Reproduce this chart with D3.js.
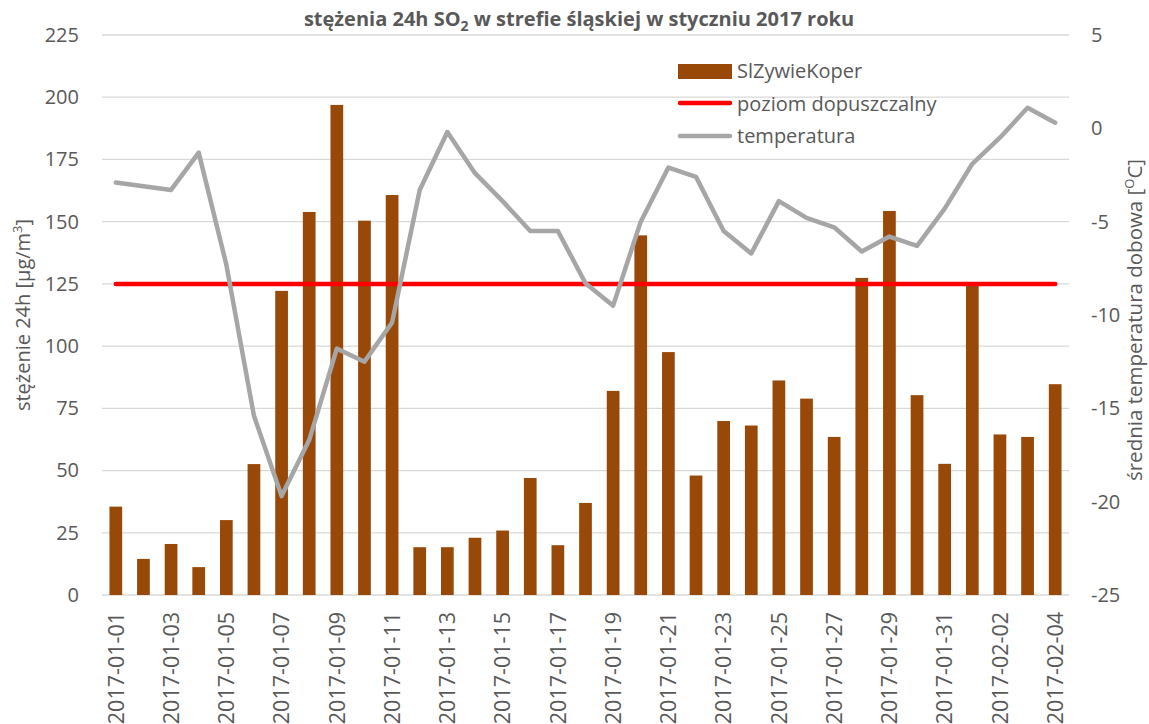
<!DOCTYPE html>
<html lang="pl">
  <head>
    <meta charset="UTF-8" />
    <title>stężenia 24h SO2</title>
    <style>
      body { margin: 0; background: #fff; }
      text { font-family: "Open Sans", sans-serif; fill: #595959; }
    </style>
  </head>
  <body>
    <div id="app"></div>
    <script src="https://cdn.jsdelivr.net/npm/d3@7/dist/d3.min.js"></script>
    <script>
      // dni pomiarowe
      const dates = [
        "2017-01-01", "2017-01-02", "2017-01-03", "2017-01-04", "2017-01-05",
        "2017-01-06", "2017-01-07", "2017-01-08", "2017-01-09", "2017-01-10",
        "2017-01-11", "2017-01-12", "2017-01-13", "2017-01-14", "2017-01-15",
        "2017-01-16", "2017-01-17", "2017-01-18", "2017-01-19", "2017-01-20",
        "2017-01-21", "2017-01-22", "2017-01-23", "2017-01-24", "2017-01-25",
        "2017-01-26", "2017-01-27", "2017-01-28", "2017-01-29", "2017-01-30",
        "2017-01-31", "2017-02-01", "2017-02-02", "2017-02-03", "2017-02-04"
      ];
      // SlZywieKoper, stezenie 24h SO2 [ug/m3]
      const so2 = [
        35.5, 14.5, 20.5, 11.2, 30.1, 52.6, 122.2, 153.9, 196.9, 150.4,
        160.7, 19.2, 19.2, 23.0, 25.9, 47.0, 20.0, 37.0, 82.0, 144.5,
        97.6, 48.0, 69.9, 68.1, 86.2, 78.9, 63.5, 127.4, 154.3, 80.3,
        52.7, 124.3, 64.5, 63.5, 84.7
      ];
      // srednia temperatura dobowa [C]
      const temperatura = [
        -2.9, -3.1, -3.3, -1.3, -7.3, -15.4, -19.7, -16.7, -11.8, -12.5,
        -10.4, -3.3, -0.2, -2.4, -3.9, -5.5, -5.5, -8.3, -9.5, -5.0,
        -2.1, -2.6, -5.5, -6.7, -3.9, -4.8, -5.3, -6.6, -5.8, -6.3,
        -4.3, -1.9, -0.5, 1.1, 0.3
      ];
      const poziomDopuszczalny = 125;
      const leftTicks = [0, 25, 50, 75, 100, 125, 150, 175, 200, 225];
      const rightTicks = [-25, -20, -15, -10, -5, 0, 5];
      const xTickLabels = dates.filter((d, i) => i % 2 === 0);

      const width = 1149;
      const height = 724;
      const plot = { left: 102, right: 1069, top: 35, bottom: 595 };

      const svg = d3.select("#app")
        .append("svg")
        .attr("width", width)
        .attr("height", height);

      const x = d3.scaleBand()
        .domain(dates)
        .range([plot.left, plot.right])
        .paddingInner(0.54)
        .paddingOuter(0.27);
      const cx = d => x(d) + x.bandwidth() / 2;

      const y = d3.scaleLinear().domain([0, 225]).range([plot.bottom, plot.top]);
      const y2 = d3.scaleLinear().domain([-25, 5]).range([plot.bottom, plot.top]);

      // siatka
      svg.append("g")
        .selectAll("line")
        .data(leftTicks)
        .enter()
        .append("line")
        .attr("x1", plot.left)
        .attr("x2", plot.right)
        .attr("y1", d => y(d))
        .attr("y2", d => y(d))
        .attr("stroke", "#d9d9d9")
        .attr("stroke-width", 1.3);

      // os lewa
      const yAxis = d3.axisLeft(y).tickValues(leftTicks).tickSize(0).tickPadding(0);
      const gy = svg.append("g")
        .attr("transform", "translate(79,0)")
        .call(yAxis);
      gy.select(".domain").remove();
      gy.selectAll("text")
        .attr("font-size", 20)
        .attr("font-family", "Open Sans")
        .attr("fill", "#595959");

      // os prawa (zwykly minus jak w excelu)
      const y2Axis = d3.axisRight(y2)
        .tickValues(rightTicks)
        .tickFormat(d => String(d))
        .tickSize(0)
        .tickPadding(0);
      const gy2 = svg.append("g")
        .attr("transform", "translate(1091,0)")
        .call(y2Axis);
      gy2.select(".domain").remove();
      gy2.selectAll("text")
        .attr("font-size", 20)
        .attr("font-family", "Open Sans")
        .attr("fill", "#595959");

      // os x
      const xAxis = d3.axisBottom(x).tickValues(xTickLabels).tickSize(0).tickPadding(0);
      const gx = svg.append("g")
        .attr("transform", `translate(0,${plot.bottom})`)
        .call(xAxis);
      gx.select(".domain").remove();
      gx.selectAll("text")
        .attr("font-size", 21.5)
        .attr("font-family", "Liberation Sans")
        .attr("fill", "#595959")
        .attr("text-anchor", "end")
        .attr("transform", "rotate(-90)")
        .attr("x", -17)
        .attr("y", 0)
        .attr("dy", "0.36em");

      // slupki
      svg.append("g")
        .selectAll("rect")
        .data(so2)
        .enter()
        .append("rect")
        .attr("x", (d, i) => x(dates[i]))
        .attr("y", d => y(d))
        .attr("width", x.bandwidth())
        .attr("height", d => y(0) - y(d))
        .attr("fill", "#984807");

      // poziom dopuszczalny
      svg.append("line")
        .attr("x1", cx(dates[0]))
        .attr("x2", cx(dates[dates.length - 1]))
        .attr("y1", y(poziomDopuszczalny))
        .attr("y2", y(poziomDopuszczalny))
        .attr("stroke", "#ff0000")
        .attr("stroke-width", 4.5)
        .attr("stroke-linecap", "round");

      // temperatura
      const line = d3.line()
        .x((d, i) => cx(dates[i]))
        .y(d => y2(d));
      svg.append("path")
        .datum(temperatura)
        .attr("d", line)
        .attr("fill", "none")
        .attr("stroke", "#a6a6a6")
        .attr("stroke-width", 4.5)
        .attr("stroke-linejoin", "round")
        .attr("stroke-linecap", "round");

      // tytul
      const title = svg.append("text")
        .attr("x", 579)
        .attr("y", 26)
        .attr("text-anchor", "middle")
        .attr("font-size", 20)
        .attr("font-weight", "bold");
      title.append("tspan").text("stężenia 24h SO");
      title.append("tspan").attr("font-size", 14).attr("dy", 5).text("2");
      title.append("tspan").attr("dy", -5).text(" w strefie śląskiej w styczniu 2017 roku");

      // tytuly osi
      const midY = (plot.top + plot.bottom) / 2;
      const ylab = svg.append("text")
        .attr("transform", `translate(30,${midY}) rotate(-90)`)
        .attr("text-anchor", "middle")
        .attr("font-size", 20);
      ylab.append("tspan").text("stężenie 24h [µg/m");
      ylab.append("tspan").attr("font-size", 13).attr("dy", -8).text("3");
      ylab.append("tspan").attr("dy", 8).text("]");

      const y2lab = svg.append("text")
        .attr("transform", `translate(1142,${midY + 5}) rotate(-90)`)
        .attr("text-anchor", "middle")
        .attr("font-size", 20.5);
      y2lab.append("tspan").text("średnia temperatura dobowa [");
      y2lab.append("tspan").attr("font-size", 13).attr("dy", -8).text("O");
      y2lab.append("tspan").attr("dy", 8).text("C]");

      // legenda
      const legend = svg.append("g").attr("transform", "translate(678,0)");
      legend.append("rect")
        .attr("x", 0).attr("y", 64)
        .attr("width", 54).attr("height", 15)
        .attr("fill", "#984807");
      legend.append("line")
        .attr("x1", 2).attr("x2", 52)
        .attr("y1", 103).attr("y2", 103)
        .attr("stroke", "#ff0000").attr("stroke-width", 4.5)
        .attr("stroke-linecap", "round");
      legend.append("line")
        .attr("x1", 2).attr("x2", 52)
        .attr("y1", 136).attr("y2", 136)
        .attr("stroke", "#a6a6a6").attr("stroke-width", 4.5)
        .attr("stroke-linecap", "round");
      const legendItems = ["SlZywieKoper", "poziom dopuszczalny", "temperatura"];
      legend.selectAll("text.lg")
        .data(legendItems)
        .enter()
        .append("text")
        .attr("class", "lg")
        .attr("x", 59)
        .attr("y", (d, i) => 71 + i * 32.5)
        .attr("dy", "0.35em")
        .attr("font-size", 20)
        .text(d => d);
    </script>
  </body>
</html>
